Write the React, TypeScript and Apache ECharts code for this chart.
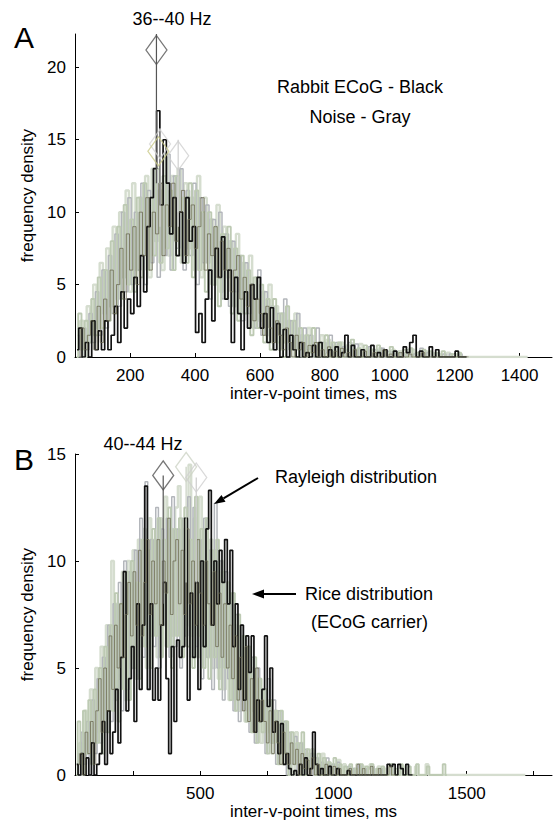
import React, { useEffect, useRef } from 'react';
import * as echarts from 'echarts';

const FONT = '"Liberation Sans", Arial, Helvetica, sans-serif';
const BIN = 10;

// ---------- Panel A (36--40 Hz) ----------
const xTicksA = [200, 400, 600, 800, 1000, 1200, 1400];
const yTicksA = [0, 5, 10, 15, 20];
const startA = 35;
const ecogA = [
  0.5, 2, 0, 1, 0, 2.5, 0.5, 1.8, 0.5, 2.5,
  0.5, 1.5, 3.5, 1, 4.5, 2, 4, 3, 5.5, 3.5,
  7, 4.5, 9, 11, 13, 17, 10.5, 15, 12, 8.5,
  11, 7, 10, 6.5, 11, 8, 9, 1.7, 3, 1,
  4, 6, 2.5, 7.5, 5.5, 8.3, 4, 6, 1, 5.5,
  3, 0.5, 4.5, 2, 5, 4, 5.5, 2, 3, 1,
  3.4, 0.5, 2.3, 0, 1.9, 0, 1.5, 0.5, 0, 1,
  0, 0.3, 0, 0.8, 0, 1, 0, 0, 0.5, 0,
  0.7, 0, 0.3, 1.5, 0, 0.8, 0, 0, 0.5, 0,
  0, 0.8, 0, 0.3, 0, 0.5, 0, 0, 0.4, 0,
  0, 0.7, 0.3, 1.0, 1.5, 0, 0.4, 0, 0, 0.7,
  0, 0.5, 0, 0, 0, 0, 0, 0.4, 0, 0, 0,
];
const noise1A = [
  0, 3, 0.5, 2.5, 1, 4, 1.5, 5.5, 2, 6,
  2.5, 8, 3, 9, 4, 10.5, 5, 9.5, 4.5, 11,
  5.5, 12, 6, 11, 7, 13, 6.5, 12.5, 7.5, 11.5,
  6, 12.5, 7, 11, 6.5, 12, 5.5, 11.5, 6, 10,
  4.5, 10, 5, 9, 3.5, 8.5, 4, 9, 3, 7.5,
  2.5, 7, 3, 6, 1.5, 5.5, 2, 5, 1, 4,
  0.5, 4, 1, 3, 0, 3.5, 0.5, 2.5, 0, 2,
  0, 1.5, 0.3, 2, 0, 1, 0, 1.5, 0, 1,
  0, 1, 0, 0.5, 0, 1.2, 0, 0.6, 0, 0.8,
  0, 0.5, 0, 0.8, 0, 0.4, 0, 0.7, 0, 0.3,
  0, 0.5, 0, 0.6, 0, 0.3, 0, 0.5, 0, 0.4,
  0, 0.3, 0, 0.4, 0, 0, 0.2, 0, 0.3, 0, 0,
];
const noise2A = [
  1.5, 0, 2, 0.5, 3, 1, 4.5, 1.5, 6, 2,
  7, 3, 8.5, 3.5, 10, 4.5, 11, 5, 10, 6,
  12, 5, 11.5, 6.5, 13, 5.5, 12, 7, 14, 6,
  12.5, 7.5, 13, 6, 11.5, 7, 12, 5, 11, 6.5,
  10.5, 4, 9.5, 5.5, 10, 4, 8.5, 3.5, 8, 4.5,
  7, 2.5, 6.5, 3, 5, 2, 6, 1.5, 4.5, 1,
  3.5, 0.5, 3, 1.5, 4, 0, 2.5, 0.5, 3, 0,
  2, 0.5, 1.5, 0, 2, 0, 1, 0.3, 1.5, 0,
  1, 0, 0.7, 0, 1, 0, 0.9, 0, 0.5, 0,
  0.7, 0, 0.5, 0, 0.6, 0, 0.4, 0, 0.4, 0,
  0.3, 0, 0.5, 0, 0.2, 0, 0.6, 0, 0.3, 0,
  0, 0.3, 0, 0.2, 0, 0.2, 0, 0, 0.2, 0, 0,
];
const noise3A = [
  0.5, 2.5, 0, 3.5, 1.5, 5, 2, 6.5, 3, 7.5,
  3.5, 9, 4, 10, 5.5, 11.5, 4.5, 12, 6, 11,
  7, 12.5, 5.5, 13, 8, 11.5, 6, 14, 7, 12.5,
  8, 13, 6.5, 12, 7.5, 11, 6, 12.5, 5.5, 11,
  6.5, 9.5, 5, 10.5, 4.5, 9, 5.5, 8, 3.5, 8.5,
  3, 6.5, 4, 7, 2, 5.5, 2.5, 4.5, 1.5, 5,
  1, 3.5, 0.5, 3, 1, 2.5, 0, 3, 0.5, 1.5,
  0, 2, 0, 1, 0.5, 1.5, 0, 1.2, 0, 0.8,
  0, 1, 0, 0.8, 0, 0.5, 0, 0.9, 0, 0.6,
  0, 0.5, 0, 0.6, 0, 0.3, 0, 0.5, 0, 0.4,
  0, 0.3, 0, 0.5, 0, 0.2, 0, 0.4, 0, 0.3,
  0, 0.2, 0, 0, 0.3, 0, 0, 0.2, 0, 0, 0,
];
const noise4A = [
  0, 2, 0.5, 1.5, 2.5, 0.5, 3.5, 1, 4, 2.5,
  6, 3, 5, 7.5, 4, 8.5, 6, 9, 5, 10,
  7, 11, 6, 10, 8.5, 12, 7, 10.5, 9, 12,
  8, 10, 11.5, 7, 9.5, 10.5, 7.5, 9, 11, 6,
  8.5, 7, 9, 5.5, 8, 6, 7.5, 4.5, 6, 7,
  4, 5.5, 3.5, 5, 2.5, 4, 3, 1.5, 3.5, 2,
  1, 2.5, 1.5, 0.5, 2, 1, 0, 1.5, 0.5, 1,
  0, 0.8, 0.3, 1, 0, 0.5, 0, 0.7, 0, 0.4,
  0, 0.6, 0, 0.3, 0, 0.5, 0, 0, 0.4, 0,
  0, 0.3, 0, 0, 0.5, 0, 0.2, 0, 0, 0.3,
  0, 0, 0.2, 0, 0, 0, 0.3, 0, 0, 0,
  0, 0, 0, 0, 0, 0, 0, 0, 0, 0, 0,
];
const noiseEndA = 1425;
const diamondXA = [281, 292, 287, 348];
const diamondYA = [21.2, 14.7, 14.2, 13.9];
const stemXA = [281, 292, 348];
const stemLowA = [12, 9, 9];
const stemTopA = [22.3, 15.8, 15.0];

// ---------- Panel B (40--44 Hz) ----------
const xTicksB = [250, 500, 750, 1000, 1250, 1500, 1750];
const xLabelsB = [500, 1000, 1500];
const yTicksB = [0, 5, 10, 15];
const startB = 35;
const ecogB = [
  0.5, 0, 1, 0, 0.8, 0, 1.5, 0, 0.5, 1,
  2.5, 0.5, 3, 1, 2, 4, 1.5, 5.5, 9.5, 3,
  4.5, 6, 2.5, 8, 4, 7, 13.5, 4, 8, 3.5,
  5, 3.5, 7, 9, 4.5, 1, 6, 2.5, 6.3, 5.5,
  6, 12, 3.5, 8.5, 5.5, 9, 4, 10, 6, 11.5,
  13.3, 7, 10, 8, 10.5, 9, 11, 8, 10.5, 6,
  8, 4, 7, 3.5, 6.5, 4.8, 6.5, 2, 3.5, 2.5,
  4, 6.5, 3.2, 5, 2, 2.5, 1, 2.4, 0.5, 1,
  0.3, 0, 0.2, 0, 0.5, 0, 0.8, 0, 0.3, 2,
  0.5, 0, 0.3, 0, 0, 0.4, 0, 0, 0.3, 0,
  0, 0, 0.2, 0, 0, 0, 0, 0, 0, 0,
  0, 0, 0, 0, 0, 0, 0, 0.5, 0.4, 0.5,
  0, 0.5, 0.3, 0, 0.5, 0, 0,
];
const noise1B = [
  0, 2.5, 0.5, 3, 1, 3.5, 0.5, 4, 1.5, 5,
  1, 6, 2, 7, 3, 8.5, 2.5, 8, 4, 9.5,
  3.5, 10, 5, 9, 4.5, 11, 6, 10.5, 5, 11.5,
  6.5, 12, 5.5, 11, 6, 12.5, 5, 11.5, 6.5, 12,
  5.5, 12.5, 6, 11, 5, 13, 6.5, 11.5, 5, 12,
  4.5, 10.5, 5.5, 11, 4, 9.5, 5, 9, 3.5, 8.5,
  3, 7.5, 4, 6.5, 2.5, 6, 2, 5.5, 1.5, 4.5,
  2, 4, 1, 3.5, 1.5, 3, 0.5, 3, 1, 2.5,
  0, 2, 0.5, 1.5, 0, 2, 0, 1.2, 0.3, 1,
  0, 1, 0, 0.8, 0, 0.6, 0, 0.8, 0, 0.5,
  0,
  0.4, 0, 0.5, 0, 0.3, 0, 0.5, 0, 0.4, 0,
  0.5, 0, 0.3, 0, 0.4, 0, 0, 0.5, 0, 0.3,
  0, 0.5, 0, 0, 0.4, 0, 0, 0.5, 0, 0,
  0, 0.4, 0, 0, 0, 0, 0, 0.5, 0,
];
const noise2B = [
  1, 0, 2, 0.5, 2.5, 0, 3.5, 1, 4.5, 1.5,
  5.5, 2, 7, 2.5, 8, 3.5, 9, 3, 10, 4,
  9.5, 5, 10.5, 4.5, 12, 5.5, 13.7, 4, 11, 6,
  12.5, 5, 11.5, 7, 12, 5.5, 13, 6, 11.5, 5,
  12, 6.5, 13, 5.5, 12.5, 6, 11, 4.5, 12, 5.5,
  10.5, 4, 12.7, 5, 10, 3.5, 9.5, 4.5, 8, 3,
  7.5, 2.5, 7, 3, 6, 2, 5.5, 1.5, 5, 2.5,
  4, 1, 4.5, 1.5, 3.5, 0.5, 3, 1, 2.5, 0,
  2, 0.5, 1.8, 0, 1.5, 0, 1.2, 0.3, 1, 0,
  0.8, 0, 0.6, 0, 0.8, 0, 0.5, 0, 0.6, 0,
  0,
  0, 0.4, 0, 0.3, 0, 0.5, 0, 0.3, 0, 0,
  0.4, 0, 0, 0.3, 0, 0, 0, 0.5, 0,
];
const noise3B = [
  0.5, 1.5, 0, 3, 1, 4, 1.5, 5, 2, 6,
  2.5, 7, 3, 10, 3.5, 8, 4.5, 9.5, 3.5, 10,
  5, 10.5, 4.5, 11, 6, 11.5, 5, 12, 6.5, 11,
  5.5, 12, 7, 13, 6, 11.5, 6.5, 12.5, 13.5, 6,
  11.5, 7, 14.5, 6.5, 12, 5.5, 13, 6, 11.5, 5.5,
  11, 5, 10.5, 4.5, 10, 4, 9, 3.5, 8.5, 3.5,
  7, 3, 6.5, 2.5, 6, 3, 5, 2, 4.5, 1.5,
  4, 2, 3.5, 1, 3, 1.5, 2.5, 0.5, 2.5, 1,
  1.5, 0, 2, 0.5, 1.5, 0, 1, 0.3, 1.2, 0,
  0.8, 0, 1, 0, 0.6, 0, 0.5, 0.2, 0.7, 0,
  0.5,
  0, 0.4, 0, 0.3, 0.5, 0, 0.4, 0, 0.3, 0.5,
  0, 0, 0.4, 0, 0.3, 0, 0, 0.5, 0, 0,
  0, 0.4, 0, 0, 0, 0, 0.4, 0, 0, 0,
  0.5, 0, 0, 0, 0, 0, 0, 0, 0,
];
const noise4B = [
  0.5, 1, 0, 2, 1, 2.5, 0.5, 3, 4.5, 2,
  5, 3, 6.5, 4, 7, 5, 8, 5.5, 7.5, 9,
  6.5, 9.5, 7, 10.5, 6.5, 9, 11, 7.5, 10, 8,
  11, 7, 10, 8.5, 12, 7.5, 10, 11, 8, 10.5,
  7.5, 11.5, 8, 10, 7, 11, 8.5, 7, 10, 8,
  7, 9.5, 6, 8.5, 5.5, 8, 5, 7, 4.5, 6.5,
  3.5, 5.5, 3, 6, 2.5, 4.5, 2, 5, 2.5, 3.5,
  2.5, 1.5, 3, 1, 2.5, 1.5, 0.5, 2, 1, 0.5,
  1.5, 0.5, 1.2, 0, 1, 0.3, 0.7, 0, 0.8, 0,
  0.5, 0, 0, 0.5, 0, 0, 0.4, 0, 0.3, 0,
  0,
  0, 0.3, 0, 0, 0.5, 0, 0.3, 0, 0, 0.4,
  0, 0, 0.3, 0, 0, 0, 0.4, 0, 0,
];
const noiseEndB = 1720;
const diamondXB = [361, 447, 485];
const diamondYB = [14.0, 14.4, 13.9];
const stemXB = [361, 447, 485];
const stemLowB = [8, 9, 9];
const stemTopB = [14.0, 14.4, 13.9];

// ---------- styles ----------
const NOISE_STYLES = [
  { color: '#d5ddcf', width: 2.4 },
  { color: '#b3b6bb', width: 1.5 },
  { color: '#bdcab3', width: 1.9 },
];
const DARK_NOISE = { color: '#6b6850', width: 0.8 };
const ECOG_STYLE = { color: '#111111', width: 1.7 };

const toPairs = (start: number, vals: number[], end?: number) => {
  const d: number[][] = vals.map((v, i) => [start + i * BIN, v]);
  if (end !== undefined) d.push([end, 0]);
  return d;
};

const stepSeries = (name: string, data: number[][], idx: number, style: { color: string; width: number }, z = 2) => ({
  name,
  type: 'line',
  xAxisIndex: idx,
  yAxisIndex: idx,
  step: 'middle',
  showSymbol: false,
  symbol: 'none',
  data,
  lineStyle: { color: style.color, width: style.width },
  z,
  silent: true,
});

const stemSeries = (idx: number, xs: number[], lows: number[], tops: number[], colors: string[]) =>
  xs.map((x, i) => ({
    type: 'line',
    xAxisIndex: idx,
    yAxisIndex: idx,
    symbol: 'none',
    data: [[x, lows[i]], [x, tops[i]]],
    lineStyle: { color: colors[i], width: 1.2 },
    z: 5,
    silent: true,
  }));

const diamondSeries = (idx: number, xs: number[], ys: number[], colors: string[]) => ({
  type: 'scatter',
  xAxisIndex: idx,
  yAxisIndex: idx,
  symbol: 'diamond',
  symbolSize: [21, 29],
  data: xs.map((x, i) => ({
    value: [x, ys[i]],
    itemStyle: { color: 'rgba(0,0,0,0)', borderColor: colors[i], borderWidth: 1.3 },
  })),
  z: 6,
  silent: true,
});

const axisText = { fontFamily: FONT, fontSize: 17, color: '#000' };

const xAxisCfg = (idx: number, min: number, max: number, ticks: number[], labels: number[], gap: number) => ({
  type: 'value',
  gridIndex: idx,
  min,
  max,
  axisLine: { show: true, onZero: false, lineStyle: { color: '#000', width: 1 } },
  axisTick: { show: true, inside: true, length: 4, customValues: ticks, lineStyle: { color: '#000' } },
  axisLabel: { ...axisText, margin: 10, customValues: labels, formatter: (v: number) => String(v) },
  splitLine: { show: false },
  name: 'inter-v-point times, ms',
  nameLocation: 'middle',
  nameGap: gap,
  nameTextStyle: axisText,
});

const yAxisCfg = (idx: number, max: number, ticks: number[]) => ({
  type: 'value',
  gridIndex: idx,
  min: 0,
  max,
  axisLine: { show: true, onZero: false, lineStyle: { color: '#000', width: 1 } },
  axisTick: { show: true, inside: true, length: 4, customValues: ticks, lineStyle: { color: '#000' } },
  axisLabel: { ...axisText, margin: 9, customValues: ticks, formatter: (v: number) => String(v) },
  splitLine: { show: false },
  name: 'frequency density',
  nameLocation: 'middle',
  nameGap: 36,
  nameTextStyle: axisText,
});

const txt = (text: string, x: number, y: number, size = 18, align = 'center') => ({
  type: 'text',
  x,
  y,
  style: { text, fontFamily: FONT, fontSize: size, fill: '#000', align, verticalAlign: 'middle' },
  z: 10,
});

const option = {
  animation: false,
  backgroundColor: '#fff',
  grid: [
    { left: 75, top: 34, width: 477, height: 323 },
    { left: 75, top: 454, width: 477, height: 321 },
  ],
  xAxis: [
    xAxisCfg(0, 30, 1500, xTicksA, xTicksA, 28),
    xAxisCfg(1, 30, 1820, xTicksB, xLabelsB, 26),
  ],
  yAxis: [yAxisCfg(0, 22.3, yTicksA), yAxisCfg(1, 15, yTicksB)],
  series: [
    stepSeries('noise3A', toPairs(startA + 6, noise3A, noiseEndA), 0, NOISE_STYLES[0]),
    stepSeries('noise2A', toPairs(startA + 3, noise2A), 0, NOISE_STYLES[1]),
    stepSeries('noise1A', toPairs(startA, noise1A), 0, NOISE_STYLES[2]),
    stepSeries('ecogA', toPairs(startA + 1.5, ecogA), 0, ECOG_STYLE, 3),
    stepSeries('noise4A', toPairs(startA + 8, noise4A), 0, DARK_NOISE, 4),
    ...stemSeries(0, stemXA, stemLowA, stemTopA, ['#555555', '#cfcfcf', '#cfcfcf']),
    diamondSeries(0, diamondXA, diamondYA, ['#555555', '#d4d4d4', '#c9c98a', '#cfcfcf']),

    stepSeries('noise3B', toPairs(startB + 6, noise3B, noiseEndB), 1, NOISE_STYLES[0]),
    stepSeries('noise2B', toPairs(startB + 3, noise2B), 1, NOISE_STYLES[1]),
    stepSeries('noise1B', toPairs(startB, noise1B), 1, NOISE_STYLES[2]),
    stepSeries('ecogB', toPairs(startB + 1.5, ecogB), 1, ECOG_STYLE, 3),
    stepSeries('noise4B', toPairs(startB + 8, noise4B), 1, DARK_NOISE, 4),
    ...stemSeries(1, stemXB, stemLowB, stemTopB, ['#555555', '#c8d0c0', '#cccccc']),
    diamondSeries(1, diamondXB, diamondYB, ['#555555', '#cdd3c6', '#d0d0d0']),
  ],
  graphic: [
    txt('A', 24, 37, 30),
    txt('B', 24, 459, 30),
    txt('36--40 Hz', 172, 19),
    txt('Rabbit ECoG - Black', 360, 87),
    txt('Noise - Gray', 360, 117),
    txt('40--44 Hz', 143, 444),
    txt('Rayleigh distribution', 275, 477, 18, 'left'),
    txt('Rice distribution', 305, 594, 18, 'left'),
    txt('(ECoG carrier)', 311, 622, 18, 'left'),
    { type: 'line', shape: { x1: 258, y1: 478, x2: 223.5, y2: 498.4 }, style: { stroke: '#000', lineWidth: 2 }, z: 10 },
    { type: 'polygon', shape: { points: [[214, 504], [225.5, 501.8], [221.5, 495]] }, style: { fill: '#000' }, z: 10 },
    { type: 'line', shape: { x1: 296, y1: 594, x2: 262, y2: 594 }, style: { stroke: '#000', lineWidth: 2 }, z: 10 },
    { type: 'polygon', shape: { points: [[252, 594], [264, 589.5], [264, 598.5]] }, style: { fill: '#000' }, z: 10 },
  ],
};

export default function App() {
  const ref = useRef<HTMLDivElement>(null);
  useEffect(() => {
    document.body.style.margin = '0';
    const chart = echarts.init(ref.current as HTMLDivElement, null, { renderer: 'svg' });
    chart.setOption(option as any);
    return () => chart.dispose();
  }, []);
  return <div ref={ref} style={{ width: 556, height: 829 }} />;
}
